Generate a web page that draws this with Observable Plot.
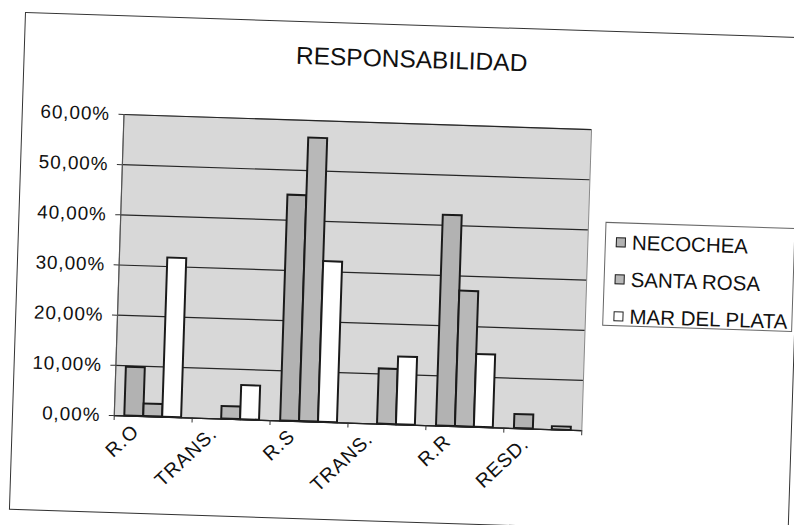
<!DOCTYPE html>
<html>
<head>
<meta charset="utf-8">
<script src="https://cdn.jsdelivr.net/npm/d3@7"></script>
<script src="https://cdn.jsdelivr.net/npm/@observablehq/plot@0.6"></script>
<style>
  html, body { margin: 0; padding: 0; background: #fff; width: 794px; height: 525px; overflow: hidden; }
  #chart {
    position: absolute; left: 25px; top: 12px; width: 780px; height: 498px;
    border: 1.5px solid #333; box-sizing: border-box; background: #fff;
    transform-origin: 0 0; transform: rotate(1.85deg);
    font-family: "Liberation Sans", Arial, sans-serif; color: #111;
  }
  #title { position: absolute; left: 0; width: 774px; top: 21px; text-align: center; font-size: 24.5px; line-height: 26px; }
  #plot { position: absolute; left: 0; top: 0; }
  #plot svg g[aria-label$="tick label"] text { letter-spacing: 0.9px; }
  #legend {
    position: absolute; left: 586px; top: 190px; width: 190px; height: 104px;
    border: 1px solid #666; box-sizing: border-box; background: #fff; padding-left: 10px;
  }
  .item { height: 37px; line-height: 37px; font-size: 20.5px; white-space: nowrap; display: flex; align-items: center; }
  .sw { width: 8px; height: 8px; border: 1.5px solid #222; margin-right: 6px; flex: none; }
</style>
</head>
<body>
<div id="chart">
  <div id="plot"></div>
  <div id="title">RESPONSABILIDAD</div>
  <div id="legend"></div>
</div>
<script>
const categories = ["R.O", "TRANS.", "R.S", "TRANS.", "R.R", "RESD."];
const seriesNames = ["NECOCHEA", "SANTA ROSA", "MAR DEL PLATA"];
const necochea    = [0.097, 0.000, 0.450, 0.000, 0.420, 0.028];
const santaRosa   = [0.025, 0.025, 0.565, 0.110, 0.270, 0.000];
const marDelPlata = [0.317, 0.068, 0.320, 0.135, 0.145, 0.006];
const yTicks = [0, 0.1, 0.2, 0.3, 0.4, 0.5, 0.6];
const colors = ["#b2b2b2", "#b8b8b8", "#ffffff"];

const seriesValues = [necochea, santaRosa, marDelPlata];
const rows = [];
categories.forEach((c, i) => seriesNames.forEach((s, j) => {
  const v = seriesValues[j][i];
  if (v > 0) rows.push({i, j, category: c, series: s, value: v});
}));

const outer = 0.135, bw = 0.243;
const fmt = d => (d * 100).toFixed(2).replace(".", ",") + "%";

const chart = Plot.plot({
  width: 780,
  height: 498,
  marginLeft: 101,
  marginRight: 210,
  marginTop: 98,
  marginBottom: 98,
  style: {fontFamily: "'Liberation Sans', Arial, sans-serif", fontSize: "19px", color: "#111", background: "transparent"},
  x: {domain: [0, categories.length], axis: null, label: null},
  y: {domain: [0, 0.6], axis: null, label: null},
  marks: [
    Plot.frame({fill: "#d8d8d8", stroke: "#888", strokeWidth: 1}),
    Plot.gridY(yTicks, {stroke: "#262626", strokeOpacity: 1, strokeWidth: 1.2}),
    Plot.rect(rows, {
      x1: d => d.i + outer + d.j * bw,
      x2: d => d.i + outer + (d.j + 1) * bw,
      y1: d => 0,
      y2: "value",
      fill: d => colors[d.j],
      stroke: "#1a1a1a",
      strokeWidth: 2
    }),
    Plot.ruleY([0], {stroke: "#222", strokeWidth: 1.3}),
    Plot.ruleX([0], {stroke: "#555", strokeWidth: 1.2}),
    Plot.axisY({ticks: yTicks, tickFormat: fmt, tickSize: 5, tickPadding: 9, fontSize: 19, stroke: "#333", label: null}),
    Plot.axisX({ticks: d3.range(0, categories.length + 1), tickFormat: () => "", tickSize: 5, stroke: "#333", label: null}),
    Plot.axisX({ticks: categories.map((c, i) => i + 0.5), tickFormat: d => categories[Math.floor(d)],
      tickSize: 0, tickPadding: 12, tickRotate: -45, dx: -17, fontSize: 19.5, label: null})
  ]
});
document.getElementById("plot").appendChild(chart);

const legend = document.getElementById("legend");
seriesNames.forEach((s, j) => {
  const item = document.createElement("div");
  item.className = "item";
  const sw = document.createElement("span");
  sw.className = "sw";
  sw.style.background = colors[j];
  item.appendChild(sw);
  item.appendChild(document.createTextNode(s));
  legend.appendChild(item);
});
</script>
</body>
</html>
